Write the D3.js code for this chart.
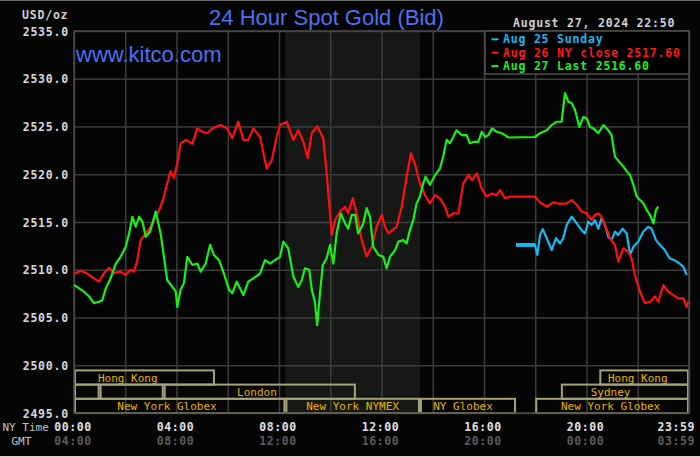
<!DOCTYPE html>
<html><head><meta charset="utf-8">
<script src="https://cdn.jsdelivr.net/npm/d3@7"></script>
<style>html,body{margin:0;padding:0;background:#050505;}svg{display:block}</style>
</head><body><svg id="c" width="700" height="457"></svg>
<script>
// ---------- DATA ----------
const titleText = "24 Hour Spot Gold (Bid)";
const siteText = "www.kitco.com";
const unitText = "USD/oz";
const stampText = "August 27, 2024 22:50";

const priceTicks = [2495, 2500, 2505, 2510, 2515, 2520, 2525, 2530, 2535];
const gridHours = [0, 2, 4, 6, 8, 10, 12, 14, 16, 18, 20, 22, 24];
const timeTickHours = [0, 4, 8, 12, 16, 20, 23 + 59 / 60];
const gmtOffsetHours = 4;

const seriesNames = ["Aug 25 Sunday", "Aug 26 NY close 2517.60", "Aug 27 Last 2516.60"];

const cyanHours = [17.25,17.99,18.08,18.19,18.29,18.45,18.64,18.81,18.97,19.09,
  19.23,19.42,19.62,19.81,19.94,20.07,20.20,20.33,20.46,20.59,
  20.72,20.85,20.98,21.11,21.24,21.41,21.57,21.70,21.83,22.02,
  22.22,22.41,22.54,22.71,22.87,23.06,23.24,23.43,23.63,23.78,23.91];
const cyanValues = [2512.6,2512.6,2511.55,2513.65,2514.25,2513.3,2512.05,2513.3,2512.75,2513.3,
  2514.7,2515.55,2514.85,2514.15,2513.8,2515.05,2514.7,2515.2,2514.3,2515.4,
  2514.7,2513.45,2513.1,2514.0,2513.65,2514.3,2513.8,2511.55,2512.4,2512.95,
  2514.0,2514.5,2514.3,2513.1,2512.6,2512.05,2511.2,2511.0,2510.65,2510.3,2509.45];

const redHours = [0,0.26,0.52,0.78,0.98,1.17,1.37,1.56,1.82,2.02,
  2.21,2.34,2.47,2.60,2.80,2.99,3.19,3.38,3.51,3.64,
  3.77,3.90,4.03,4.16,4.36,4.62,4.81,5.01,5.20,5.40,
  5.72,5.98,6.18,6.41,6.61,6.80,7.00,7.26,7.52,7.72,
  7.91,8.04,8.30,8.56,8.75,8.95,9.12,9.28,9.49,9.73,
  9.86,9.99,10.06,10.19,10.38,10.58,10.70,10.88,11.03,11.23,
  11.42,11.62,11.81,12.01,12.14,12.27,12.59,12.79,12.98,13.15,
  13.31,13.50,13.70,13.89,14.09,14.28,14.48,14.61,14.80,15.00,
  15.19,15.39,15.54,15.72,15.91,16.11,16.30,16.49,16.62,16.82,
  17.01,17.99,18.19,18.45,18.70,18.97,19.23,19.42,19.62,19.81,
  20.01,20.20,20.33,20.46,20.59,20.72,20.92,21.11,21.24,21.44,
  21.63,21.76,21.89,22.09,22.28,22.48,22.67,22.80,23.00,23.19,
  23.39,23.58,23.78,23.91,23.97];
const redValues = [2509.55,2509.9,2509.6,2509.1,2508.75,2509.65,2510.2,2509.65,2509.8,2509.45,
  2510.0,2509.8,2511.0,2513.1,2513.8,2514.5,2515.55,2516.6,2517.65,2519.05,
  2520.3,2519.6,2521.15,2523.2,2523.6,2523.2,2524.8,2524.45,2524.3,2524.8,
  2525.15,2524.8,2523.75,2525.5,2523.6,2523.6,2524.8,2523.9,2520.6,2521.5,
  2523.9,2525.15,2525.5,2523.6,2524.6,2523.4,2521.7,2524.3,2525.05,2523.75,
  2520.1,2515.9,2513.65,2515.2,2516.1,2516.6,2515.9,2517.5,2515.9,2513.1,
  2511.4,2512.4,2514.5,2515.75,2514.5,2513.8,2514.5,2516.6,2519.75,2522.2,
  2521.0,2519.05,2517.8,2516.95,2517.8,2517.5,2516.6,2515.55,2515.9,2515.9,
  2519.05,2519.9,2519.4,2520.1,2518.5,2517.65,2518.0,2517.8,2518.35,2517.5,
  2517.65,2517.65,2517.05,2516.6,2517.05,2516.9,2516.95,2517.3,2516.8,2516.1,
  2515.9,2515.2,2515.75,2515.9,2515.55,2514.7,2513.3,2512.6,2510.85,2512.25,
  2511.9,2511.2,2509.45,2507.7,2506.5,2506.65,2507.2,2506.65,2508.4,2507.7,
  2507.35,2507.0,2507.0,2506.1,2506.65];

const greenHours = [0,0.20,0.39,0.59,0.78,0.98,1.10,1.24,1.43,1.63,
  1.82,2.02,2.15,2.28,2.41,2.54,2.67,2.80,2.97,3.19,
  3.38,3.51,3.64,3.84,3.97,4.03,4.16,4.29,4.42,4.62,
  4.81,4.94,5.14,5.31,5.46,5.66,5.85,6.05,6.18,6.35,
  6.61,6.80,7.00,7.26,7.45,7.65,7.84,8.04,8.17,8.36,
  8.56,8.75,8.89,9.01,9.18,9.28,9.40,9.49,9.60,9.71,
  9.86,9.99,10.12,10.25,10.41,10.58,10.70,10.84,10.97,11.09,
  11.29,11.42,11.55,11.68,11.88,12.07,12.20,12.33,12.53,12.66,
  12.85,12.98,13.11,13.24,13.37,13.50,13.63,13.72,13.89,14.09,
  14.28,14.41,14.54,14.67,14.80,14.93,15.13,15.32,15.45,15.62,
  15.78,15.91,16.04,16.17,16.32,16.49,16.69,16.82,16.95,17.99,
  18.19,18.45,18.64,18.84,19.03,19.16,19.29,19.42,19.55,19.72,
  19.88,20.01,20.14,20.27,20.46,20.66,20.85,20.98,21.11,21.28,
  21.44,21.57,21.70,21.83,21.96,22.09,22.22,22.35,22.48,22.61,
  22.71,22.80];
const greenValues = [2508.4,2508.05,2507.7,2507.2,2506.5,2506.65,2506.8,2508.05,2509.1,2510.65,
  2511.35,2512.4,2513.8,2515.55,2514.5,2515.55,2515.05,2513.45,2514.0,2516.1,
  2513.8,2511.35,2508.9,2508.2,2507.7,2506.1,2507.9,2508.6,2511.35,2510.5,
  2510.65,2509.8,2510.65,2512.6,2511.55,2511.0,2509.6,2507.9,2507.55,2508.75,
  2507.35,2508.75,2509.1,2509.6,2511.0,2510.65,2511.0,2511.35,2512.95,2512.25,
  2509.3,2508.2,2508.9,2510.15,2510.0,2507.9,2506.65,2504.2,2507.55,2510.5,
  2511.2,2512.6,2510.65,2513.8,2515.9,2514.85,2514.3,2515.75,2515.75,2513.8,
  2514.85,2516.45,2515.55,2512.4,2511.55,2511.35,2510.15,2511.35,2512.05,2512.95,
  2513.1,2512.75,2514.15,2515.2,2516.95,2517.65,2519.05,2519.75,2518.9,2519.9,
  2520.6,2521.85,2523.6,2523.25,2523.9,2524.6,2524.1,2524.1,2523.25,2523.4,
  2523.4,2524.45,2523.9,2524.1,2524.8,2524.45,2524.3,2524.1,2523.85,2523.9,
  2524.3,2524.6,2525.15,2525.5,2525.5,2528.5,2527.6,2527.45,2526.75,2524.95,
  2526.0,2525.85,2524.95,2524.8,2524.3,2525.15,2524.6,2524.1,2521.85,2521.3,
  2520.8,2520.3,2519.9,2518.9,2517.65,2517.3,2516.95,2516.25,2515.75,2514.85,
  2516.25,2516.6];

// market sessions (NY time, hours)
const sessionRow   = [0, 0, 1, 1, 1, 1, 2, 2, 2, 2];
const sessionStart = [0, 20.5, 0, 1, 3.5, 19, 0, 8.25, 13.5, 18];
const sessionEnd   = [5.5, 24, 1, 3.5, 11, 24, 8.25, 13.5, 17.25, 24];
const sessionName  = ["Hong Kong", "Hong Kong", "", "", "London", "Sydney",
                      "New York Globex", "New York NYMEX", "NY Globex", "New York Globex"];
const sessionLabelHour = [2.1, 22.0, null, null, 7.14, 20.94, 3.63, 10.87, 15.18, 20.94];
const nymexStart = 8.25, nymexEnd = 13.5;

// ---------- DRAW ----------
const svg = d3.select("#c");
const L = 74, R = 689, T = 31, B = 413;
const x = d3.scaleLinear().domain([0, 24]).range([L, R]);
const y = d3.scaleLinear().domain([2495, 2535]).range([B, T]);
const mono = "'DejaVu Sans Mono', 'Liberation Mono', monospace";
const sans = "'Liberation Sans', Arial, sans-serif";

svg.append("rect").attr("width", 700).attr("height", 457).attr("fill", "#050505");
svg.append("line").attr("x1", 0).attr("x2", 700).attr("y1", 0.5).attr("y2", 0.5).attr("stroke", "#6a6a6a");
svg.append("line").attr("x1", 0).attr("x2", 700).attr("y1", 456.5).attr("y2", 456.5).attr("stroke", "#d8d8d8");

// NYMEX shaded band
svg.append("rect").attr("x", x(nymexStart)).attr("y", T)
  .attr("width", x(nymexEnd) - x(nymexStart)).attr("height", B - T).attr("fill", "#151815");

// grid
const gridColor = "#3c3c3c";
svg.append("g").attr("transform", `translate(0,${B})`)
  .call(d3.axisBottom(x).tickValues(gridHours).tickSize(-(B - T)).tickFormat(""))
  .call(g => g.select(".domain").remove())
  .selectAll("line").attr("stroke", gridColor).attr("stroke-width", 1.5);
svg.append("g").attr("transform", `translate(${L},0)`)
  .call(d3.axisLeft(y).tickValues(priceTicks).tickSize(-(R - L)).tickFormat(""))
  .call(g => g.select(".domain").remove())
  .selectAll("line").attr("stroke", gridColor).attr("stroke-width", 1.5);

// y labels
const yAx = svg.append("g").attr("transform", `translate(${L},0)`)
  .call(d3.axisLeft(y).tickValues(priceTicks).tickSize(0).tickPadding(5).tickFormat(d3.format(".1f")));
yAx.select(".domain").remove();
yAx.selectAll("text").attr("fill", "#d8d8d8").attr("font-family", mono).attr("font-size", 11.5)
  .attr("font-weight", "bold").attr("letter-spacing", 0.8).attr("dy", "0.36em");

// session boxes
const rowH = 14.2;
const rowTop = r => B - (3 - r) * rowH;
const sessions = sessionRow.map((r, i) => ({ r, s: sessionStart[i], e: sessionEnd[i], n: sessionName[i], lh: sessionLabelHour[i] }));
const sg = svg.append("g");
sg.selectAll("rect").data(sessions).join("rect")
  .attr("x", d => x(d.s) + 1).attr("y", d => rowTop(d.r))
  .attr("width", d => x(d.e) - x(d.s) - 2).attr("height", rowH)
  .attr("fill", "none").attr("stroke", "#a4a278").attr("stroke-width", 2);
sg.selectAll("text").data(sessions.filter(d => d.n)).join("text")
  .attr("x", d => x(d.lh)).attr("y", d => rowTop(d.r) + rowH / 2 + 4)
  .attr("text-anchor", "middle").attr("fill", "#e8b400")
  .attr("font-family", mono).attr("font-size", 11).text(d => d.n);

// plot border
svg.append("rect").attr("x", L).attr("y", T).attr("width", R - L).attr("height", B - T)
  .attr("fill", "none").attr("stroke", "#484848").attr("stroke-width", 1.5);

// legend box
svg.append("rect").attr("x", 485).attr("y", T).attr("width", R - 485).attr("height", 43)
  .attr("fill", "#000").attr("stroke", "#505050").attr("stroke-width", 1.5);
const legendColors = ["#1ab8f0", "#ff1a1a", "#22ee22"];
const lg = svg.append("g");
seriesNames.forEach((n, i) => {
  const by = 43.3 + i * 13.4;
  lg.append("line").attr("x1", 491.5).attr("x2", 498.5).attr("y1", by - 4).attr("y2", by - 4)
    .attr("stroke", legendColors[i]).attr("stroke-width", 2);
  lg.append("text").attr("x", 503).attr("y", by).attr("fill", legendColors[i])
    .attr("font-family", mono).attr("font-size", 11.5).attr("font-weight", "bold")
    .attr("letter-spacing", 0.8).text(n);
});

// series lines
svg.append("clipPath").attr("id", "clip").append("rect")
  .attr("x", L).attr("y", T).attr("width", R - L).attr("height", B - T);
const line = d3.line().x(d => x(d[0])).y(d => y(d[1]));
const lines = svg.append("g").attr("clip-path", "url(#clip)");
const zip = (a, b) => a.map((h, i) => [h, b[i]]);
const cyanData = zip(cyanHours, cyanValues);
lines.append("path").attr("d", line(cyanData)).attr("fill", "none")
  .attr("stroke", "#1ab8f0").attr("stroke-width", 2.2).attr("stroke-linejoin", "round");
lines.append("path").attr("d", line(cyanData.slice(0, 2))).attr("fill", "none")
  .attr("stroke", "#1ab8f0").attr("stroke-width", 4);
lines.append("path").attr("d", line(zip(redHours, redValues))).attr("fill", "none")
  .attr("stroke", "#ff1010").attr("stroke-width", 2.2).attr("stroke-linejoin", "round");
lines.append("path").attr("d", line(zip(greenHours, greenValues))).attr("fill", "none")
  .attr("stroke", "#1aef1a").attr("stroke-width", 2.2).attr("stroke-linejoin", "round");

// titles
svg.append("text").attr("x", 326.5).attr("y", 25).attr("text-anchor", "middle")
  .attr("fill", "#4d70f2").attr("font-family", sans).attr("font-size", 22).text(titleText);
svg.append("text").attr("x", 76).attr("y", 61.7)
  .attr("fill", "#4d70f2").attr("font-family", sans).attr("font-size", 22).text(siteText);
svg.append("text").attr("x", 22).attr("y", 19.3).attr("fill", "#d0d0d0")
  .attr("font-family", mono).attr("font-size", 11.5).attr("font-weight", "bold")
  .attr("letter-spacing", 0.8).text(unitText);
svg.append("text").attr("x", 513).attr("y", 26.5).attr("fill", "#d0d0d0")
  .attr("font-family", mono).attr("font-size", 11.5).attr("font-weight", "bold")
  .attr("letter-spacing", 0.8).text(stampText);

// time axes
const pad = n => String(n).padStart(2, "0");
const fmt = h => { const t = Math.round(h * 60); return pad(Math.floor(t / 60) % 24) + ":" + pad(t % 60); };
const lastH = timeTickHours[timeTickHours.length - 1];
function timeAxis(yPos, offset, color) {
  const g = svg.append("g").attr("transform", `translate(0,${yPos})`)
    .call(d3.axisBottom(x).tickValues(timeTickHours).tickSize(0).tickPadding(0)
      .tickFormat(h => fmt(h + offset)));
  g.select(".domain").remove();
  g.selectAll("text").attr("fill", color).attr("font-family", mono).attr("font-size", 11.5)
    .attr("font-weight", "bold").attr("letter-spacing", 0.6).attr("dy", 0)
    .attr("text-anchor", h => h === lastH ? "end" : "middle")
    .attr("x", h => h === lastH ? 6 : -1.5);
}
timeAxis(431, 0, "#e0e0e0");
timeAxis(445.3, gmtOffsetHours, "#5c5c5c");
svg.append("text").attr("x", 2.5).attr("y", 431).attr("fill", "#c4c4c4")
  .attr("font-family", mono).attr("font-size", 11).text("NY Time");
svg.append("text").attr("x", 11.5).attr("y", 445.3).attr("fill", "#c4c4c4")
  .attr("font-family", mono).attr("font-size", 11).text("GMT");
</script></body></html>
